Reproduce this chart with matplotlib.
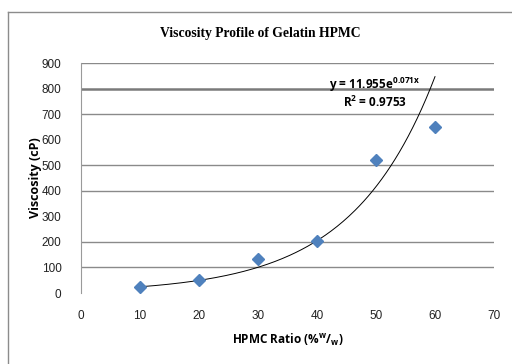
import numpy as np
import matplotlib
matplotlib.use("Agg")
import matplotlib.pyplot as plt
from matplotlib.lines import Line2D

# data
hpmc_ratio = [10, 20, 30, 40, 50, 60]
viscosity = [22, 51, 132, 203, 519, 650]

# exponential trendline shown on the chart
fit_a = 11.955
fit_b = 0.071
r_squared = 0.9753

x_ticks = [0, 10, 20, 30, 40, 50, 60, 70]
y_ticks = [0, 100, 200, 300, 400, 500, 600, 700, 800, 900]

plt.rcParams["mathtext.fontset"] = "custom"
plt.rcParams["mathtext.rm"] = "Open Sans:bold"
plt.rcParams["mathtext.it"] = "Open Sans:bold"
plt.rcParams["mathtext.bf"] = "Open Sans:bold"
plt.rcParams["mathtext.default"] = "rm"

fig = plt.figure(figsize=(5.12, 3.64), dpi=100)
ax = fig.add_axes([81 / 512, 1 - 293 / 364, 413 / 512, 230 / 364])

# outer chart border (left and top visible)
fig.add_artist(Line2D([8 / 512, 8 / 512], [0, 1 - 12 / 364], transform=fig.transFigure,
                      color="#8c8c8c", lw=1))
fig.add_artist(Line2D([8 / 512, 1], [1 - 12 / 364, 1 - 12 / 364], transform=fig.transFigure,
                      color="#8c8c8c", lw=1))

xs = np.linspace(hpmc_ratio[0], hpmc_ratio[-1], 200)
ax.plot(xs, fit_a * np.exp(fit_b * xs), color="black", lw=0.7, zorder=3)
ax.plot(hpmc_ratio, viscosity, linestyle="none", marker="D", markersize=6,
        color="#4f81bd", zorder=4)

ax.set_xlim(0, 70)
ax.set_ylim(0, 900)
ax.set_xticks(x_ticks)
ax.set_yticks(y_ticks)
ax.tick_params(length=0, labelsize=8.5, labelcolor="#222222")
ax.tick_params(axis="y", pad=14)
ax.tick_params(axis="x", pad=12)
for lab in ax.get_xticklabels() + ax.get_yticklabels():
    lab.set_family("Liberation Sans")

ax.yaxis.grid(True, color="#8a8a8a", lw=1)
ax.set_axisbelow(True)
for val, gl in zip(y_ticks, ax.yaxis.get_gridlines()):
    if val in (0, 300, 600):
        gl.set_visible(False)
    elif val == 800:
        gl.set_linewidth(1.8)
        gl.set_color("#7a7a7a")

for s in ["top", "right", "bottom"]:
    ax.spines[s].set_visible(False)
ax.spines["left"].set_color("#9a9a9a")

fig.text(260 / 512, 1 - 33 / 364, "Viscosity Profile of Gelatin HPMC", ha="center", va="center",
         family="Liberation Serif", fontweight="bold", fontsize=9.8)
fig.text(36 / 512, 1 - 178 / 364, "Viscosity (cP)", rotation=90, ha="center", va="center",
         family="Open Sans", fontweight="bold", fontsize=9)
fig.text(288 / 512, 1 - 340 / 364, r"HPMC Ratio (%$^{w}$/$_{w}$)", ha="center",
         va="center", family="Open Sans", fontweight="bold", fontsize=8.5)

fig.text(375 / 512, 1 - 85 / 364, "y = %.3fe$^{%.3fx}$" % (fit_a, fit_b), ha="center", va="center",
         family="Open Sans", fontweight="bold", fontsize=8.5)
fig.text(375 / 512, 1 - 102 / 364, "R$^{2}$ = %.4f" % r_squared, ha="center", va="center",
         family="Open Sans", fontweight="bold", fontsize=8.5)

fig.savefig("out.png", dpi=100)
